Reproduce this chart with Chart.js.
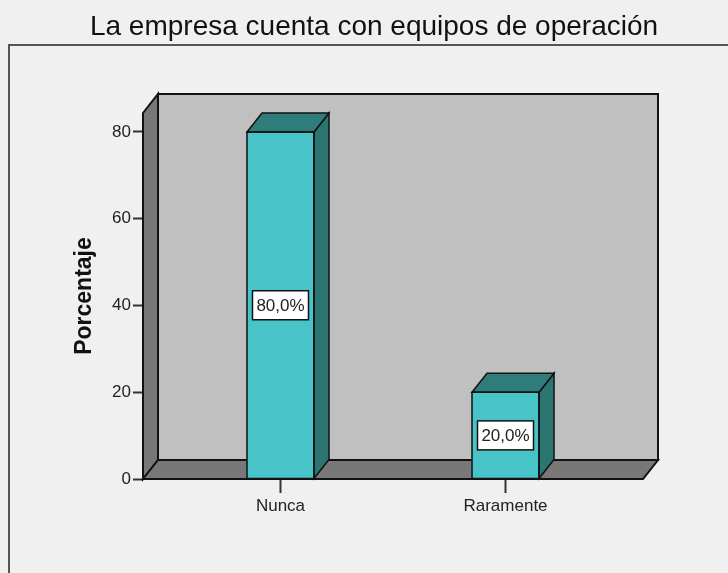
<!DOCTYPE html>
<html>
<head>
<meta charset="utf-8">
<script src="https://cdn.jsdelivr.net/npm/chart.js@4.4.0/dist/chart.umd.min.js"></script>
<style>
  html, body { margin: 0; padding: 0; background: #f0f0f0; }
  #wrap { width: 728px; height: 573px; }
</style>
</head>
<body>
<div id="wrap"><canvas id="c" width="728" height="573"></canvas></div>
<script>
const titleText = 'La empresa cuenta con equipos de operación';
const yTitle = 'Porcentaje';
const categories = ['Nunca', 'Raramente'];
const percentages = [80.0, 20.0];
const yTicks = [0, 20, 40, 60, 80];

const FONT = "'Liberation Sans', Arial, sans-serif";
const DX = 15, DY = -19;

const threeD = {
  id: 'threeD',
  beforeDraw(chart) {
    const ctx = chart.ctx;
    ctx.save();
    ctx.fillStyle = '#f0f0f0';
    ctx.fillRect(0, 0, chart.width, chart.height);
    ctx.strokeStyle = '#555555';
    ctx.lineWidth = 2;
    ctx.strokeRect(9, 45, chart.width + 20, chart.height + 20);
    // title
    ctx.fillStyle = '#111';
    ctx.font = '28px ' + FONT;
    ctx.textAlign = 'center';
    ctx.textBaseline = 'alphabetic';
    ctx.fillText(titleText, 374, 34.5);
    ctx.restore();
  },
  beforeDatasetsDraw(chart) {
    const ctx = chart.ctx;
    const a = chart.chartArea;
    const L = a.left, R = a.right, T = a.top, B = a.bottom;
    ctx.save();
    ctx.lineWidth = 2;
    ctx.strokeStyle = '#111';
    ctx.lineJoin = 'miter';
    ctx.fillStyle = '#c0c0c0';
    ctx.beginPath();
    ctx.rect(L + DX, T + DY, R - L, B - T);
    ctx.fill(); ctx.stroke();
    ctx.fillStyle = '#787878';
    ctx.beginPath();
    ctx.moveTo(L, T); ctx.lineTo(L + DX, T + DY); ctx.lineTo(L + DX, B + DY); ctx.lineTo(L, B); ctx.closePath();
    ctx.fill(); ctx.stroke();
    ctx.beginPath();
    ctx.moveTo(L, B); ctx.lineTo(L + DX, B + DY); ctx.lineTo(R + DX, B + DY); ctx.lineTo(R, B); ctx.closePath();
    ctx.fill(); ctx.stroke();
    ctx.restore();
  },
  afterDatasetsDraw(chart) {
    const ctx = chart.ctx;
    const meta = chart.getDatasetMeta(0);
    ctx.save();
    meta.data.forEach((bar, i) => {
      const p = bar.getProps(['x', 'y', 'base', 'width'], true);
      const x0 = p.x - p.width / 2, x1 = p.x + p.width / 2;
      const top = p.y, base = p.base;
      ctx.lineWidth = 1.5;
      ctx.strokeStyle = '#111';
      ctx.fillStyle = '#2b7573';
      ctx.beginPath();
      ctx.moveTo(x1, top); ctx.lineTo(x1 + DX, top + DY); ctx.lineTo(x1 + DX, base + DY); ctx.lineTo(x1, base); ctx.closePath();
      ctx.fill(); ctx.stroke();
      ctx.fillStyle = '#2f7d7b';
      ctx.beginPath();
      ctx.moveTo(x0, top); ctx.lineTo(x0 + DX, top + DY); ctx.lineTo(x1 + DX, top + DY); ctx.lineTo(x1, top); ctx.closePath();
      ctx.fill(); ctx.stroke();
      ctx.strokeRect(x0, top, p.width, base - top);
      const txt = percentages[i].toFixed(1).replace('.', ',') + '%';
      const cy = (top + base) / 2;
      ctx.font = '17px ' + FONT;
      const w = 56, h = 29;
      ctx.fillStyle = '#ffffff';
      ctx.fillRect(p.x - w / 2, cy - h / 2, w, h);
      ctx.strokeRect(p.x - w / 2, cy - h / 2, w, h);
      ctx.fillStyle = '#222';
      ctx.textAlign = 'center';
      ctx.textBaseline = 'middle';
      ctx.fillText(txt, p.x, cy + 1);
    });
    ctx.restore();
  }
};

new Chart(document.getElementById('c'), {
  type: 'bar',
  data: {
    datasets: [{
      data: categories.map((c, i) => ({ x: i, y: percentages[i] })),
      backgroundColor: '#48c4c8',
      borderColor: '#111',
      borderWidth: 0,
      barThickness: 67
    }]
  },
  options: {
    responsive: false,
    animation: false,
    events: [],
    layout: { padding: { left: 0, right: 85, top: 113, bottom: 0 } },
    plugins: {
      legend: { display: false },
      tooltip: { enabled: false },
      title: { display: false }
    },
    scales: {
      x: {
        type: 'linear',
        offset: false,
        min: -0.611,
        max: 1.611,
        afterBuildTicks(scale) { scale.ticks = categories.map((c, i) => ({ value: i })); },
        afterFit(scale) { scale.height = 94; },
        ticks: {
          callback: (v) => categories[v] !== undefined ? categories[v] : '',
          color: '#222',
          font: { family: FONT, size: 17 },
          padding: 3,
          maxRotation: 0,
          autoSkip: false
        },
        grid: { offset: false, drawOnChartArea: false, drawTicks: true, tickLength: 14, tickColor: '#333', tickWidth: 2 },
        border: { display: false }
      },
      y: {
        min: 0,
        max: 84.38,
        afterBuildTicks(scale) { scale.ticks = yTicks.map(v => ({ value: v })); },
        afterFit(scale) { scale.width = 143; },
        ticks: {
          color: '#222',
          font: { family: FONT, size: 17 },
          padding: 2
        },
        title: {
          display: true,
          text: yTitle,
          color: '#111',
          font: { family: FONT, size: 23, weight: 'bold' },
          padding: { top: 71, bottom: 0 }
        },
        grid: { drawOnChartArea: false, drawTicks: true, tickLength: 10, tickColor: '#333', tickWidth: 2 },
        border: { display: false }
      }
    }
  },
  plugins: [threeD]
});
</script>
</body>
</html>
